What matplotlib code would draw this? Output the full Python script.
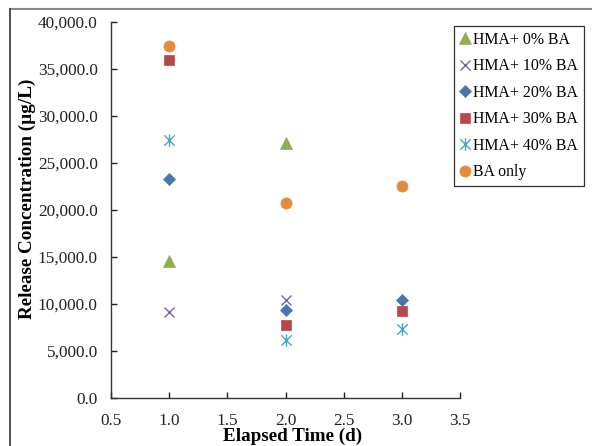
import matplotlib
matplotlib.use("Agg")
import matplotlib.pyplot as plt
from matplotlib.path import Path
from matplotlib.lines import Line2D
from matplotlib.ticker import FuncFormatter, MultipleLocator

# data
days = [1.0, 2.0, 3.0]
hma_0 = [14600, 27100, None]
hma_10 = [9100, 10400, None]
hma_20 = [23300, 9400, 10450]
hma_30 = [36000, 7800, 9300]
hma_40 = [27500, 6150, 7350]
ba_only = [37500, 20700, 22600]

labels = ["HMA+ 0% BA", "HMA+ 10% BA", "HMA+ 20% BA",
          "HMA+ 30% BA", "HMA+ 40% BA", "BA only"]
colors = ["#8FAE4E", "#7B62A0", "#4A76AE", "#B7474A", "#48A6C0", "#E88A3C"]

# asterisk marker (x plus vertical bar), like Excel's star
star = Path([(-0.5, -0.5), (0.5, 0.5), (-0.5, 0.5), (0.5, -0.5), (0, -0.6), (0, 0.6)],
            [Path.MOVETO, Path.LINETO, Path.MOVETO, Path.LINETO, Path.MOVETO, Path.LINETO])

plt.rcParams["font.family"] = ["Liberation Serif", "DejaVu Serif"]

fig = plt.figure(figsize=(5.92, 4.46), dpi=100)
ax = fig.add_axes([111/592, 1-398/446, (460-111)/592, (398-22)/446])

series = [hma_0, hma_10, hma_20, hma_30, hma_40, ba_only]
styles = [
    dict(marker="^", markersize=8),
    dict(marker="x", markersize=7, markeredgewidth=1.0),
    dict(marker="D", markersize=6),
    dict(marker="s", markersize=7.5),
    dict(marker=star, markersize=9, markeredgewidth=1.0),
    dict(marker="o", markersize=8),
]
for ys, lab, c, st in zip(series, labels, colors, styles):
    xs = [x for x, y in zip(days, ys) if y is not None]
    yv = [y for y in ys if y is not None]
    if st["marker"] in ("x",) or st["marker"] is star:
        ax.plot(xs, yv, linestyle="none", color=c, markeredgecolor=c,
                markerfacecolor="none", label=lab, **st)
    else:
        ax.plot(xs, yv, linestyle="none", color=c, markeredgecolor=c,
                markeredgewidth=0.5, label=lab, **st)

ax.set_xlim(0.5, 3.5)
ax.set_ylim(0, 40000)
ax.xaxis.set_major_locator(MultipleLocator(0.5))
ax.yaxis.set_major_locator(MultipleLocator(5000))
ax.xaxis.set_major_formatter(FuncFormatter(lambda v, p: f"{v:.1f}"))
ax.yaxis.set_major_formatter(FuncFormatter(lambda v, p: f"{v:,.1f}"))
ax.tick_params(direction="in", length=4, width=1, labelsize=12.4, colors="#222222")
ax.tick_params(axis="x", pad=11)
ax.tick_params(axis="y", pad=9.5)
for s in ["top", "right"]:
    ax.spines[s].set_visible(False)
for s in ["left", "bottom"]:
    ax.spines[s].set_color("#333333")
    ax.spines[s].set_linewidth(1.0)

ax.set_xlabel("Elapsed Time (d)", fontsize=13.8, fontweight="bold", labelpad=-1)
ax.set_ylabel("Release Concentration (\u00b5g/L)", fontsize=13.8, fontweight="bold", labelpad=1)
ax.xaxis.label.set_x(0.52)
ax.yaxis.label.set_y(0.53)

leg = ax.legend(loc="upper left", bbox_to_anchor=(454/592, 1-26/446),
                bbox_transform=fig.transFigure, borderaxespad=0,
                fontsize=11.4, frameon=True, fancybox=False, edgecolor="black",
                handlelength=0.6, handletextpad=0.2, labelspacing=0.66,
                borderpad=0.38, numpoints=1)
leg.get_frame().set_linewidth(0.9)

# outer chart frame (cropped screenshot)
fig.add_artist(Line2D([10/592, 1], [1-9/446, 1-9/446], color="#8a8a8a", lw=1.5))
fig.add_artist(Line2D([10/592, 10/592], [0, 1-9/446], color="#333333", lw=1.2))

fig.savefig("out.png", dpi=100)
